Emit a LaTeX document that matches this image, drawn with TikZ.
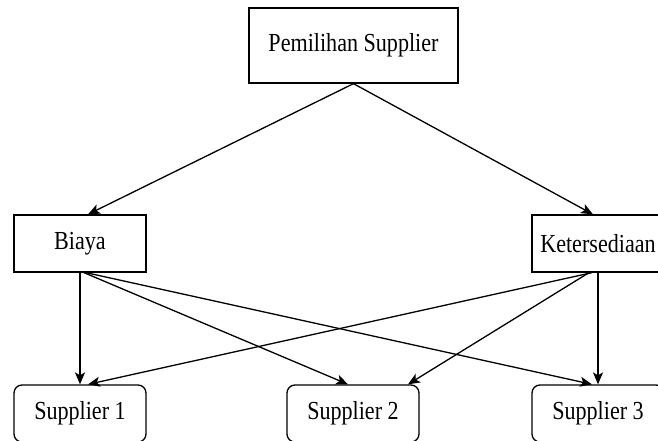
\documentclass[tikz,border=0pt]{standalone}
\usepackage{fontspec}
\setmainfont{Liberation Serif}[FakeStretch=0.85]
\usetikzlibrary{arrows.meta,calc}

\tikzset{
  box/.style={draw, line width=1.3pt, inner sep=0pt, align=center,
    font=\fontsize{26}{30}\selectfont},
  leafbox/.style={box, rounded corners=8pt},
  link/.style={line width=1.3pt,
    -{Stealth[length=12pt,width=10pt,inset=3pt]}}
}

\begin{document}
\begin{tikzpicture}[x=1pt,y=-1pt]
  \useasboundingbox (0,0) rectangle (658,441);

  % goal
  \node[box, minimum width=209pt, minimum height=75pt] (goal) at (353.5,45.5) {Pemilihan Supplier};

  % criteria
  \node[box, minimum width=132pt, minimum height=57pt] (biaya) at (80,243.5) {Biaya};
  \node[box, minimum width=132pt, minimum height=57pt] (keter) at (598,243.5) {Ketersediaan};

  % alternatives
  \node[leafbox, minimum width=132pt, minimum height=57pt] (s1) at (80,413.5) {Supplier 1};
  \node[leafbox, minimum width=132pt, minimum height=57pt] (s2) at (353,413.5) {Supplier 2};
  \node[leafbox, minimum width=132pt, minimum height=57pt] (s3) at (598,413.5) {Supplier 3};

  % goal -> criteria
  \draw[link] (goal.south) -- ($(biaya.north)+(8,0)$);
  \draw[link] (goal.south) -- ($(keter.north)+(-5,0)$);

  % Biaya -> alternatives
  \draw[link] (biaya.south) -- (s1.north);
  \draw[link] ($(biaya.south)+(4,0)$) -- ($(s2.north)+(-5,0)$);
  \draw[link] ($(biaya.south)+(6,0)$) -- ($(s3.north)+(-6,0)$);

  % Ketersediaan -> alternatives
  \draw[link] ($(keter.south)+(-6,0)$) -- ($(s1.north)+(8,0)$);
  \draw[link] ($(keter.south)+(-9,0)$) -- ($(s2.north)+(55,0)$);
  \draw[link] (keter.south) -- (s3.north);
\end{tikzpicture}
\end{document}
